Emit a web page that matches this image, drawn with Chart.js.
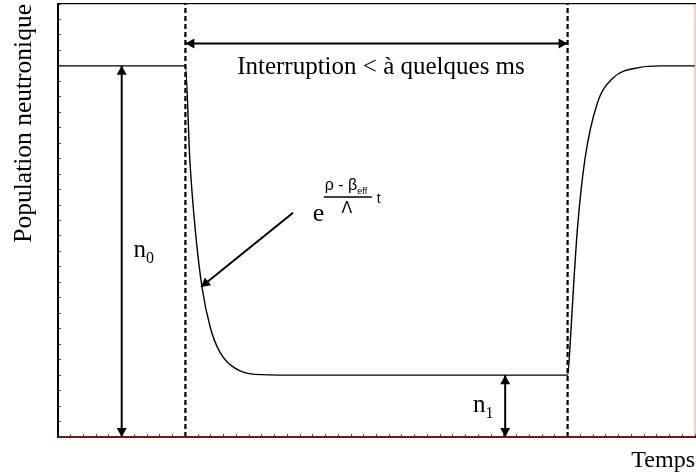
<!DOCTYPE html>
<html lang="fr">
<head>
<meta charset="UTF-8">
<title>Population neutronique - interruption</title>
<script src="https://cdn.jsdelivr.net/npm/chart.js"></script>
<style>
    html, body { margin: 0; padding: 0; background: #fff; }
    #wrap { width: 696px; height: 475px; }
</style>
</head>
<body>
<div id="wrap"><canvas id="chart" width="696" height="475"></canvas></div>
<script>
    // Courbe (temps et population en unites arbitraires)
    const timeVals = [0, 20, 20.7, 21.5, 22.6, 23.9, 25.4, 27.8, 30.9, 36.4, 80, 80.5, 81.0, 81.6, 82.7, 84.6, 87.1, 91.4, 94.5, 100];
    const popVals  = [24, 24, 17.9, 13.6, 9.7, 7.1, 5.5, 4.45, 4.05, 4, 4, 6.7, 10.2, 13.75, 17.9, 21.5, 23.2, 23.9, 24, 24];

    const n0 = 24;          // niveau avant interruption
    const n1 = 4;           // niveau pendant l'interruption
    const tStart = 20;      // debut de l'interruption
    const tEnd = 80;        // fin de l'interruption
    const xMax = 100;
    const yMax = 28;

    // fleches (x, y) : depart -> arrivee
    const arrowInterrupt = [[tStart, 25.45], [tEnd, 25.45]];
    const arrowN0 = [[10, n0], [10, 0]];
    const arrowN1 = [[70.2, n1], [70.2, 0]];
    const arrowExp = [[36.9, 14.5], [22.45, 9.7]];

    const serif = "'Liberation Serif', 'Times New Roman', serif";
    const sans = "'Liberation Sans', Arial, sans-serif";

    function pts(arr) {
        return arr.map(p => ({ x: p[0], y: p[1] }));
    }

    function lineSet(data, extra) {
        return Object.assign({
            data: data,
            borderColor: '#000',
            borderWidth: 2,
            pointRadius: 0,
            fill: false
        }, extra);
    }

    // pointes de fleches, a partir des points places par les echelles
    const arrowHeads = {
        id: 'arrowHeads',
        afterDatasetsDraw(chart) {
            const ctx = chart.ctx;
            chart.data.datasets.forEach((ds, i) => {
                if (!ds.heads) return;
                const p = chart.getDatasetMeta(i).data;
                const a = p[0], b = p[p.length - 1];
                const draw = (from, to) => {
                    const ang = Math.atan2(to.y - from.y, to.x - from.x);
                    const len = 9, half = 5;
                    ctx.save();
                    ctx.translate(to.x, to.y);
                    ctx.rotate(ang);
                    ctx.beginPath();
                    ctx.moveTo(0, 0);
                    ctx.lineTo(-len, -half);
                    ctx.lineTo(-len, half);
                    ctx.closePath();
                    ctx.fillStyle = '#000';
                    ctx.fill();
                    ctx.restore();
                };
                draw(a, b);
                if (ds.heads === 'both') draw(b, a);
            });
        }
    };

    // textes places avec les echelles
    const labels = {
        id: 'labels',
        afterDatasetsDraw(chart) {
            const ctx = chart.ctx;
            const x = chart.scales.x, y = chart.scales.y;
            ctx.save();
            ctx.fillStyle = '#000';
            ctx.textBaseline = 'alphabetic';

            // Interruption
            ctx.font = '25px ' + serif;
            ctx.textAlign = 'center';
            ctx.fillText('Interruption < à quelques ms', x.getPixelForValue(50.7), y.getPixelForValue(23.5));

            ctx.textAlign = 'left';
            const sub = (main, s, vx, vy) => {
                const px = x.getPixelForValue(vx), py = y.getPixelForValue(vy);
                ctx.font = '25px ' + serif;
                ctx.fillText(main, px, py);
                const w = ctx.measureText(main).width;
                ctx.font = '16px ' + serif;
                ctx.fillText(s, px + w, py + 6);
            };
            sub('n', '0', 11.85, 11.64);
            sub('n', '1', 65.15, 1.62);

            // e^((rho - beta_eff)/Lambda t)
            const ex = x.getPixelForValue(40.0), ey = y.getPixelForValue(13.94);
            ctx.font = '26px ' + serif;
            ctx.fillText('e', ex, ey);
            ctx.font = '16px ' + sans;
            ctx.fillText('ρ - β', ex + 12, ey - 31);
            const wn = ctx.measureText('ρ - β').width;
            ctx.font = '9px ' + sans;
            ctx.fillText('eff', ex + 12 + wn, ey - 27);
            ctx.font = '16px ' + sans;
            ctx.textAlign = 'center';
            ctx.fillText('Λ', ex + 34, ey - 8);
            ctx.textAlign = 'left';
            ctx.font = '14px ' + sans;
            ctx.fillText('t', ex + 64, ey - 18);
            ctx.beginPath();
            ctx.moveTo(ex + 11, ey - 24.5);
            ctx.lineTo(ex + 59, ey - 24.5);
            ctx.lineWidth = 1.5;
            ctx.strokeStyle = '#000';
            ctx.stroke();
            ctx.restore();
        }
    };

    const curve = timeVals.map((t, i) => ({ x: t, y: popVals[i] }));

    new Chart(document.getElementById('chart'), {
        type: 'line',
        data: {
            datasets: [
                lineSet([{ x: 0, y: 0 }, { x: xMax, y: 0 }], { borderColor: '#d33', borderWidth: 1.2, clip: false }),
                lineSet([{ x: xMax, y: 0 }, { x: xMax, y: yMax }], { borderColor: 'rgba(220,90,90,0.6)', borderWidth: 1, clip: false }),
                lineSet(curve, { borderWidth: 1.4, cubicInterpolationMode: 'monotone' }),
                lineSet([{ x: tStart, y: 0 }, { x: tStart, y: yMax }], { borderWidth: 2.2, borderDash: [5, 3] }),
                lineSet([{ x: tEnd, y: 0 }, { x: tEnd, y: yMax }], { borderWidth: 2.2, borderDash: [5, 3] }),
                lineSet(pts(arrowInterrupt), { heads: 'both' }),
                lineSet(pts(arrowN0), { heads: 'both', clip: false }),
                lineSet(pts(arrowN1), { heads: 'both', clip: false }),
                lineSet(pts(arrowExp), { heads: 'end' })
            ]
        },
        options: {
            responsive: false,
            animation: false,
            events: [],
            layout: { padding: { top: 4, right: 1, left: 0, bottom: 0 } },
            plugins: { legend: { display: false }, tooltip: { enabled: false } },
            scales: {
                x: {
                    type: 'linear', min: 0, max: xMax,
                    ticks: { display: false, stepSize: 2 },
                    grid: { drawOnChartArea: false, tickLength: -3, color: '#555' },
                    border: { color: '#000', width: 2 },
                    title: { display: true, text: 'Temps', align: 'end', color: '#000', padding: 0, font: { family: serif, size: 24 } },
                    afterFit: s => { s.height = 38; }
                },
                xTop: {
                    type: 'linear', position: 'top', min: 0, max: xMax,
                    ticks: { display: false },
                    grid: { display: false },
                    border: { color: '#000', width: 1.3 },
                    afterFit: s => { s.height = 0; }
                },
                y: {
                    type: 'linear', min: 0, max: yMax,
                    ticks: { display: false, stepSize: 1 },
                    grid: { drawOnChartArea: false, tickLength: -3, color: '#555' },
                    border: { color: '#000', width: 2 },
                    title: { display: true, text: 'Population neutronique', align: 'end', color: '#000', padding: { top: 9, bottom: 0 }, font: { family: serif, size: 25.5 } },
                    afterFit: s => { s.width = 58; }
                }
            }
        },
        plugins: [arrowHeads, labels]
    });
</script>
</body>
</html>
